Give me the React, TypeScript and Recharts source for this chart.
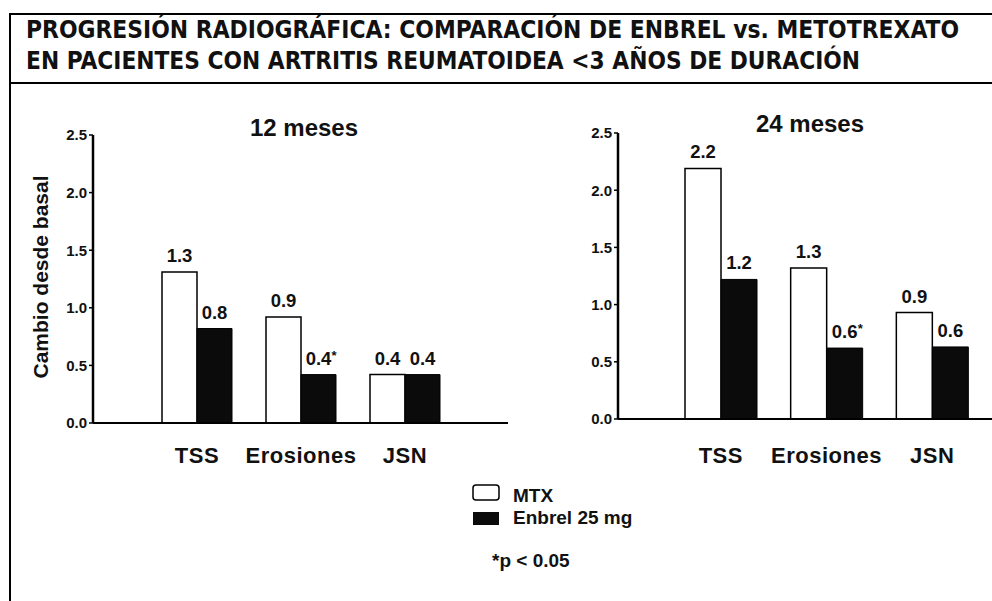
import React from 'react';
import { BarChart, Bar, XAxis, YAxis, LabelList } from 'recharts';

const titleLines = [
  'PROGRESIÓN RADIOGRÁFICA: COMPARACIÓN DE ENBREL vs. METOTREXATO',
  'EN PACIENTES CON ARTRITIS REUMATOIDEA <3 AÑOS DE DURACIÓN',
];
const panelTitles = ['12 meses', '24 meses'];
const categories = ['TSS', 'Erosiones', 'JSN'];
const seriesNames = ['MTX', 'Enbrel 25 mg'];
const mtx12 = [1.31, 0.92, 0.42];
const enbrel12 = [0.82, 0.42, 0.42];
const sig12 = ['', '*', ''];
const mtx24 = [2.19, 1.32, 0.93];
const enbrel24 = [1.22, 0.62, 0.63];
const sig24 = ['', '*', ''];
const yTicks = [0, 0.5, 1.0, 1.5, 2.0, 2.5];
const yAxisLabel = 'Cambio desde basal';
const footnote = '*p < 0.05';

const FONT = '"Liberation Sans", Arial, sans-serif';

function buildRows(mtx: number[], enb: number[], sig: string[]) {
  return categories.map((c, i) => ({
    cat: c,
    mtx: mtx[i],
    enbrel: enb[i],
    mtxLabel: mtx[i].toFixed(1),
    enbrelLabel: enb[i].toFixed(1) + sig[i],
  }));
}

const data12 = buildRows(mtx12, enbrel12, sig12);
const data24 = buildRows(mtx24, enbrel24, sig24);

function ValueLabel(props: any) {
  const vb = props.viewBox && props.viewBox.width !== undefined ? props.viewBox : props;
  const x = Number(vb.x);
  const y = Number(vb.y);
  const w = Number(vb.width);
  const str = String(props.value ?? '');
  const star = str.endsWith('*');
  const num = str.replace('*', '');
  const cx = x + w / 2;
  return (
    <g>
      <text x={cx} y={y - 10} textAnchor="middle" fontFamily={FONT} fontWeight="bold" fontSize={18.5} fill="#111">
        {num}
      </text>
      {star ? (
        <text x={cx + 13} y={y - 15} textAnchor="start" fontFamily={FONT} fontWeight="bold" fontSize={13} fill="#111">
          *
        </text>
      ) : null}
    </g>
  );
}

const renderYLabel = () => (
  <text
    x={40}
    y={177}
    transform="rotate(-90 40 177)"
    textAnchor="middle"
    dominantBaseline="central"
    fontFamily={FONT}
    fontWeight="bold"
    fontSize={21}
    fill="#111"
  >
    {yAxisLabel}
  </text>
);

interface PanelProps {
  data: any[];
  width: number;
  margin: { top: number; right: number; bottom: number; left: number };
  padding: { left: number; right: number };
  barSize: number;
  tickMargin: number;
  withYLabel: boolean;
}

function Panel({ data, width, margin, padding, barSize, tickMargin, withYLabel }: PanelProps) {
  return (
    <BarChart width={width} height={380} data={data} margin={margin} barGap={0} barSize={barSize}>
      <XAxis
        dataKey="cat"
        padding={padding}
        height={40}
        tickSize={0}
        tickMargin={tickMargin}
        axisLine={{ stroke: '#000', strokeWidth: 2 }}
        tick={{ fontFamily: FONT, fontWeight: 'bold', fontSize: 22, fill: '#111', letterSpacing: 0.5 }}
        interval={0}
      />
      <YAxis
        width={93}
        domain={[0, 2.5]}
        ticks={yTicks}
        tickFormatter={(v: number) => v.toFixed(1)}
        axisLine={{ stroke: '#000', strokeWidth: 2.5 }}
        tickLine={{ stroke: '#000', strokeWidth: 1.5 }}
        tickSize={4}
        tickMargin={2}
        tick={{ fontFamily: FONT, fontWeight: 'bold', fontSize: 15, fill: '#111' }}
        label={withYLabel ? renderYLabel : undefined}
        allowDataOverflow
      />
      <Bar dataKey="mtx" name={seriesNames[0]} fill="#ffffff" stroke="#000" strokeWidth={1.5} isAnimationActive={false}>
        <LabelList dataKey="mtxLabel" content={ValueLabel} />
      </Bar>
      <Bar dataKey="enbrel" name={seriesNames[1]} fill="#0b0b0b" stroke="#000" strokeWidth={1} isAnimationActive={false}>
        <LabelList dataKey="enbrelLabel" content={ValueLabel} />
      </Bar>
    </BarChart>
  );
}

export default function App() {
  const textStyle = { fontFamily: FONT, fontWeight: 'bold' as const, fill: '#111' };
  return (
    <div style={{ position: 'absolute', left: 0, top: 0, width: 992, height: 601, background: '#fff', overflow: 'hidden' }}>
      <div style={{ position: 'absolute', left: 0, top: 100 }}>
        <Panel
          data={data12}
          width={510}
          margin={{ top: 35, right: 2, bottom: 17, left: 0 }}
          padding={{ left: 52, right: 51 }}
          barSize={35}
          tickMargin={24}
          withYLabel={true}
        />
      </div>
      <div style={{ position: 'absolute', left: 525, top: 100 }}>
        <Panel
          data={data24}
          width={467}
          margin={{ top: 33, right: 0, bottom: 21, left: 0 }}
          padding={{ left: 50, right: 7 }}
          barSize={36}
          tickMargin={28}
          withYLabel={false}
        />
      </div>
      <svg width={992} height={601} style={{ position: 'absolute', left: 0, top: 0, pointerEvents: 'none' }}>
        <line x1={10} y1={14} x2={992} y2={14} stroke="#000" strokeWidth={2} />
        <line x1={10} y1={83} x2={992} y2={83} stroke="#000" strokeWidth={2} />
        <line x1={10} y1={13} x2={10} y2={601} stroke="#000" strokeWidth={2} />
        <text
          x={26}
          y={38}
          textLength={933}
          lengthAdjust="spacingAndGlyphs"
          fontFamily='"DejaVu Sans Condensed", "DejaVu Sans", sans-serif'
          fontWeight="bold"
          fontSize={24}
          fill="#111"
        >
          {titleLines[0]}
        </text>
        <text
          x={26}
          y={69}
          textLength={834}
          lengthAdjust="spacingAndGlyphs"
          fontFamily='"DejaVu Sans Condensed", "DejaVu Sans", sans-serif'
          fontWeight="bold"
          fontSize={24}
          fill="#111"
        >
          {titleLines[1]}
        </text>
        <text x={304} y={136} textAnchor="middle" fontSize={24} {...textStyle}>
          {panelTitles[0]}
        </text>
        <text x={810} y={132} textAnchor="middle" fontSize={24} {...textStyle}>
          {panelTitles[1]}
        </text>
        <rect x={473} y={485} width={26} height={15} rx={3} fill="#fff" stroke="#000" strokeWidth={1.5} />
        <rect x={473} y={512} width={26} height={13} fill="#0b0b0b" />
        <text x={513} y={502} fontSize={19} {...textStyle}>
          {seriesNames[0]}
        </text>
        <text x={513} y={524} fontSize={19} {...textStyle}>
          {seriesNames[1]}
        </text>
        <text x={492} y={567} fontSize={19} {...textStyle}>
          {footnote}
        </text>
      </svg>
    </div>
  );
}
